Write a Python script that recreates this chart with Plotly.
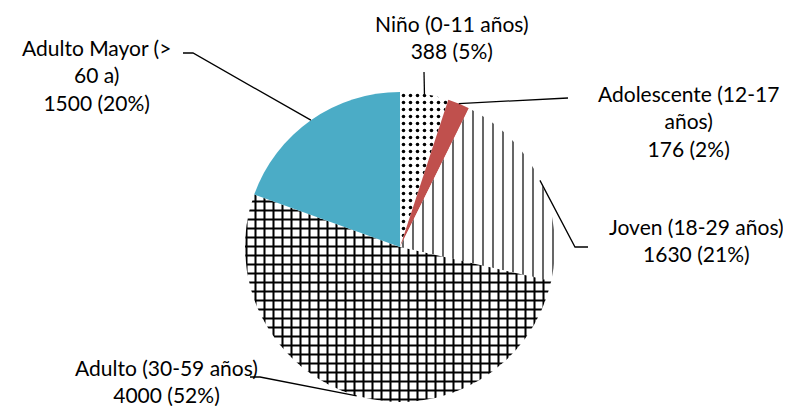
import math
import plotly.graph_objects as go

# ---- data ----
categories = ["Niño (0-11 años)", "Adolescente (12-17 años)", "Joven (18-29 años)",
              "Adulto (30-59 años)", "Adulto Mayor (> 60 a)"]
values = [388, 176, 1630, 4000, 1500]
label_texts = [
    "Niño (0-11 años)<br>388 (5%)",
    "Adolescente (12-17<br>años)<br>176 (2%)",
    "Joven (18-29 años)<br>1630 (21%)",
    "Adulto (30-59 años)<br>4000 (52%)",
    "Adulto Mayor (><br>60 a)<br>1500 (20%)",
]

# ---- styling / layout ----
OFF = 8                      # page body margin in the browser
W, H = 791 - OFF, 406 - OFF  # figure size
cx, cy, R = 400, 247, 155    # pie centre / radius in window pixels
colors = ["white", "#C0504D", "white", "white", "#4BACC6"]
pat_shape = [".", "", "|", "+", ""]
pat_size = [7, 8, 10, 9, 8]
pat_solid = [0.2, 0.3, 0.12, 0.4, 0.3]

# label centre (px) and leader-line elbow points (px) per slice
label_pos = [(452, 37), (688, 121), (696, 240), (166, 381), (96, 75)]
elbows = [
    [(424, 72)],
    [(568, 98)],
    [(588, 247), (575, 247)],
    [(250, 377), (260, 377)],
    [(183, 53), (193, 53)],
]

def px(x, y):
    return (x - OFF) / W, 1 - (y - OFF) / H

dx0, dy1 = px(cx - R, cy - R)
dx1, dy0 = px(cx + R, cy + R)

fig = go.Figure(go.Pie(
    labels=categories, values=values, sort=False, direction="clockwise", rotation=0,
    textinfo="none", hoverinfo="label+value+percent",
    marker=dict(colors=colors, line=dict(width=0),
                pattern=dict(shape=pat_shape, fgcolor="black", bgcolor=colors,
                             size=pat_size, solidity=pat_solid, fillmode="replace")),
    domain=dict(x=[dx0, dx1], y=[max(dy0, 0), dy1]),
    showlegend=False,
))

total = sum(values)
cum = 0
shapes = []
annotations = []
for i, v in enumerate(values):
    mid = (cum + v / 2) / total * 2 * math.pi
    cum += v
    ex, ey = cx + R * math.sin(mid), cy - R * math.cos(mid)
    pts = elbows[i] + [(ex, ey)]
    path = ""
    for j, (x, y) in enumerate(pts):
        X, Y = px(x, y)
        path += ("M" if j == 0 else "L") + f"{X},{Y} "
    shapes.append(dict(type="path", path=path, xref="paper", yref="paper",
                       line=dict(color="black", width=1.3)))
    lx, ly = px(*label_pos[i])
    annotations.append(dict(x=lx, y=ly, xref="paper", yref="paper", text=label_texts[i],
                            showarrow=False, xanchor="center", yanchor="middle",
                            align="center", font=dict(family="Lato", size=21, color="black")))

fig.update_layout(width=W, height=H, margin=dict(l=0, r=0, t=0, b=0),
                  paper_bgcolor="white", plot_bgcolor="white",
                  shapes=shapes, annotations=annotations)
fig.write_html("out.html")
